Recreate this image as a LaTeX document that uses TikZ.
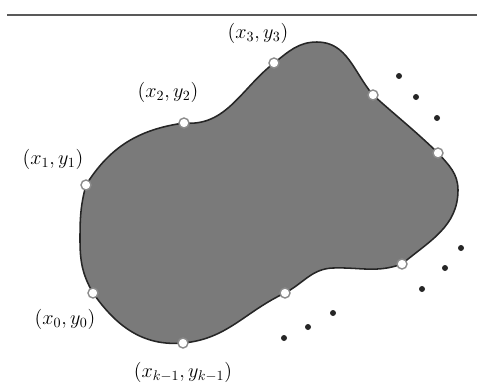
\documentclass[tikz,border=0pt]{standalone}
\usepackage{xcolor}
\usepackage{tikz}
\usetikzlibrary{positioning}

\begin{document}
\begin{tikzpicture}[
    lbl/.style={font=\Large, inner sep=1pt},
    region_style/.style={fill=black!52, draw=black!85, line width=1.1pt},
    vertex/.style={circle, draw=black!45, fill=white, line width=1pt, minimum size=0.25cm, inner sep=0pt},
    gap_dot/.style={fill=black!85}
  ]

  \useasboundingbox (0,0) rectangle (11.925,9.6);

  % Linjen överst
  \draw[black!65, line width=1.3pt] (0.175,9.225) -- (11.925,9.225);

  % Punkterna på randen
  \coordinate (P0) at (2.325, 2.275);
  \coordinate (P1) at (2.15, 4.975);
  \coordinate (P2) at (4.6, 6.525);
  \coordinate (P3) at (6.85, 8.025);
  \coordinate (P4) at (9.325, 7.225);
  \coordinate (P5) at (10.95, 5.775);
  \coordinate (P6) at (10.05, 3.0);
  \coordinate (P7) at (7.125, 2.275);
  \coordinate (P8) at (4.575, 1.025);

  % 1. Området
  \draw[region_style]
    (P1) to[out=58, in=188]
    (P2) to[out=-5, in=218]
    (P3) to[out=38, in=180]
    (7.925, 8.55) to[out=0, in=130]
    (P4) to[out=-42, in=136]
    (P5) to[out=-48, in=90]
    (11.45, 4.85) to[out=-90, in=40]
    (P6) to[out=200, in=2]
    (8.325, 2.9) to[out=182, in=28]
    (P7) to[out=205, in=5]
    (P8) to[out=185, in=-55]
    (P0) to[out=120, in=-90]
    (2.0, 3.6) to[out=90, in=-105]
    cycle;

  % 2. Hörnen
  \foreach \i in {0,...,8} {
    \node[vertex] (v\i) at (P\i) {};
  }

  % 3. Etiketter
  \node[lbl] (l3) at (6.45, 8.775) {$(x_3, y_3)$};
  \node[lbl] (l2) at (4.2, 7.3) {$(x_2, y_2)$};
  \node[lbl] (l1) at (1.325, 5.625) {$(x_1, y_1)$};
  \node[lbl] (l0) at (1.625, 1.625) {$(x_0, y_0)$};
  \node[lbl] (lk) at (4.575, 0.3) {$(x_{k-1}, y_{k-1})$};

  % 4. Prickar för de utelämnade punkterna
  \foreach \x/\y in {9.975/7.7, 10.4/7.175, 10.925/6.65,
                     11.525/3.4, 11.125/2.9, 10.55/2.375,
                     8.325/1.775, 7.7/1.425, 7.1/1.15} {
    \fill[gap_dot] (\x, \y) circle (0.075);
  }

\end{tikzpicture}
\end{document}
